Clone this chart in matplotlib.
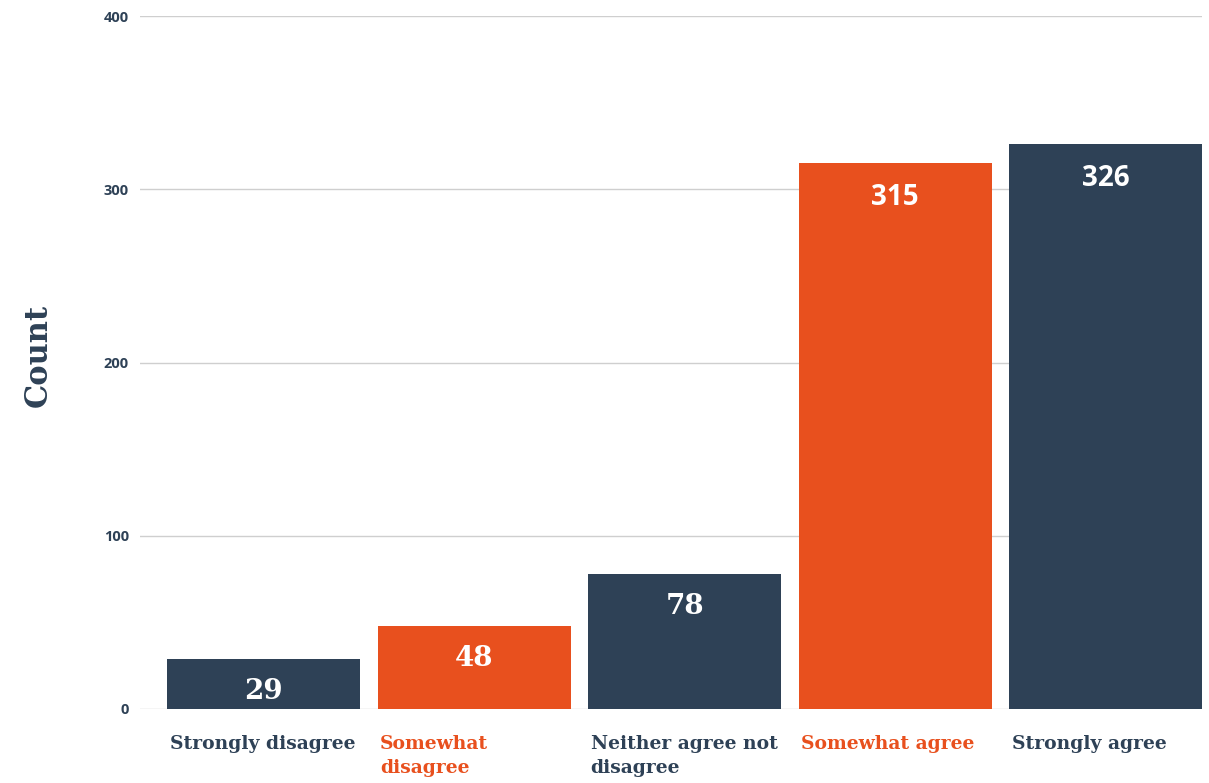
import matplotlib
matplotlib.use("Agg")
import matplotlib.pyplot as plt
import matplotlib.transforms as mtransforms

# respuestas de la encuesta
categorias = ["Strongly disagree", "Somewhat\ndisagree", "Neither agree not\ndisagree",
              "Somewhat agree", "Strongly agree"]
conteos = [29, 48, 78, 315, 326]
yticks = [0, 100, 200, 300, 400]

azul = "#2e4156"
naranja = "#e8501e"
colores = [azul, naranja, azul, naranja, azul]

fig = plt.figure(figsize=(12.09, 7.83), dpi=100)
ax = fig.add_axes([140/1209, 74/783, 1062/1209, 693/783])

ancho = 0.917
x = range(len(conteos))
ax.bar(x, conteos, width=ancho, color=colores, zorder=2)

ax.set_xlim(-0.587, 4.458)
ax.set_ylim(0, 400)
ax.set_yticks(yticks)
ax.set_yticklabels([str(v) for v in yticks], fontfamily="Open Sans",
                   fontweight="bold", fontsize=10.5, color=azul)
ax.tick_params(axis="y", length=0, pad=8)
ax.set_xticks([])
ax.grid(axis="y", color="#cfcfcf", linewidth=1, zorder=0)
for s in ax.spines.values():
    s.set_visible(False)

# valores dentro de las barras
for i, v in enumerate(conteos):
    fam = "DejaVu Serif" if v < 100 else "Open Sans"
    ax.annotate(str(v), (i, v), xytext=(0, -14), textcoords="offset points",
                ha="center", va="top", color="white", fontsize=20,
                fontweight="bold", fontfamily=fam)

# etiquetas de categoria bajo cada barra
trans = mtransforms.blended_transform_factory(ax.transData, ax.transAxes)
for i, (cat, c) in enumerate(zip(categorias, colores)):
    ax.text(i - ancho/2 + 0.012, -0.038, cat, transform=trans, ha="left", va="top",
            fontfamily="DejaVu Serif", fontweight="bold", fontsize=13.5,
            color=c, linespacing=1.4)

fig.text(38/1209, 1 - 355/783, "Count", rotation=90, ha="center", va="center",
         fontfamily="DejaVu Serif", fontweight="bold", fontsize=22, color=azul)

fig.savefig("out.png", dpi=100, facecolor="white")
